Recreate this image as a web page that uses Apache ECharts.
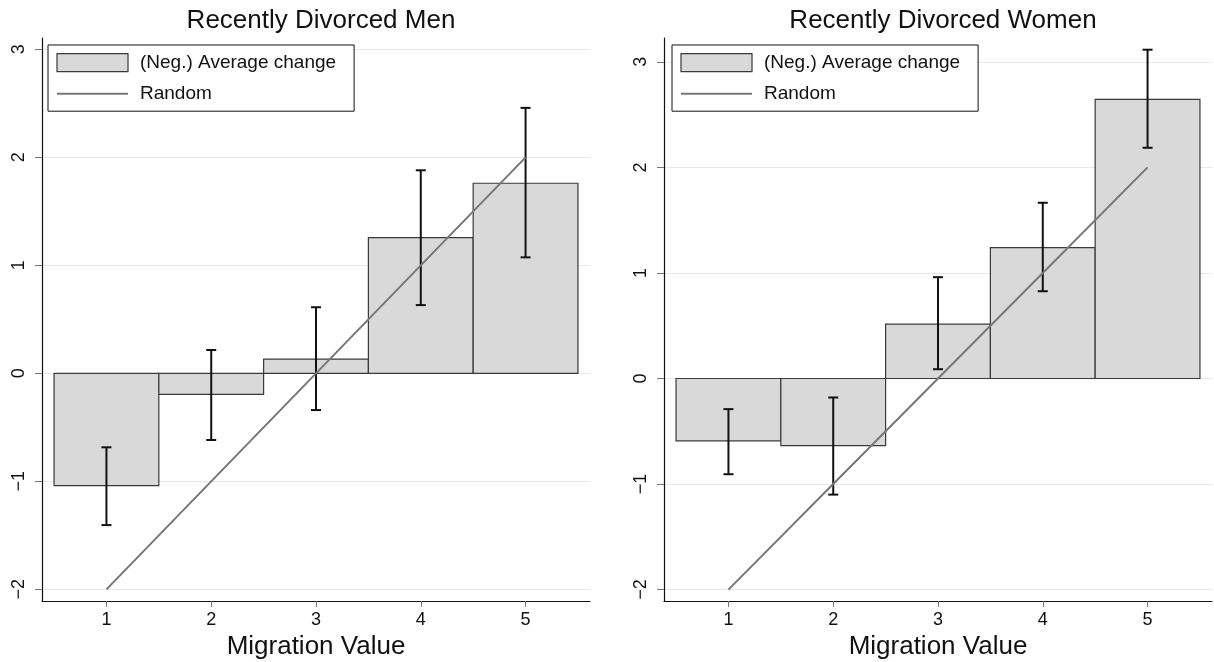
<!DOCTYPE html>
<html>
<head>
<meta charset="utf-8">
<script src="https://cdn.jsdelivr.net/npm/echarts@6/dist/echarts.min.js"></script>
<style>
  html, body { margin: 0; padding: 0; background: #fff; }
  #chart { width: 1214px; height: 662px; }
</style>
</head>
<body>
<div id="chart"></div>
<script>
// Migration values on the x axis
const categories = [1, 2, 3, 4, 5];
const xTicks = [1, 2, 3, 4, 5];
const yTicks = [-2, -1, 0, 1, 2, 3];

// Recently divorced men: (neg.) average change with confidence interval
const menAvg  = [-1.04, -0.195, 0.132, 1.256, 1.76];
const menLow  = [-1.405, -0.617, -0.34, 0.632, 1.074];
const menHigh = [-0.685, 0.216, 0.612, 1.88, 2.458];

// Recently divorced women
const womenAvg  = [-0.59, -0.635, 0.515, 1.24, 2.645];
const womenLow  = [-0.907, -1.10, 0.088, 0.827, 2.186];
const womenHigh = [-0.29, -0.18, 0.96, 1.665, 3.115];

// Reference line under random assignment
const randomLine = [-2, -1, 0, 1, 2];

const titles = ['Recently Divorced Men', 'Recently Divorced Women'];
const FONT = '"Liberation Sans", Arial, Helvetica, sans-serif';
const BAR_NAME = '(Neg.) Average change';
const LINE_NAME = 'Random';

const fmtMinus = v => (v < 0 ? '\u2212' + Math.abs(v) : String(v));

function barSeries(idx, avg) {
  return {
    type: 'custom',
    name: BAR_NAME,
    xAxisIndex: idx, yAxisIndex: idx,
    itemStyle: { color: '#d9d9d9' },
    data: categories.map((c, i) => [c, avg[i]]),
    encode: { x: 0, y: 1 },
    renderItem: function (params, api) {
      const x = api.value(0), v = api.value(1);
      const p0 = api.coord([x - 0.5, 0]);
      const p1 = api.coord([x + 0.5, v]);
      return {
        type: 'rect',
        shape: {
          x: Math.min(p0[0], p1[0]), y: Math.min(p0[1], p1[1]),
          width: Math.abs(p1[0] - p0[0]), height: Math.abs(p1[1] - p0[1])
        },
        style: { fill: '#d9d9d9', stroke: '#3a3a3a', lineWidth: 1.2 }
      };
    },
    z: 2
  };
}

function errSeries(idx, low, high) {
  return {
    type: 'custom',
    xAxisIndex: idx, yAxisIndex: idx,
    data: categories.map((c, i) => [c, low[i], high[i]]),
    encode: { x: 0, y: [1, 2] },
    renderItem: function (params, api) {
      const x = api.value(0);
      const lo = api.coord([x, api.value(1)]);
      const hi = api.coord([x, api.value(2)]);
      const cap = 5;
      const st = { stroke: '#111', lineWidth: 2 };
      return {
        type: 'group',
        children: [
          { type: 'line', shape: { x1: lo[0], y1: lo[1], x2: hi[0], y2: hi[1] }, style: st },
          { type: 'line', shape: { x1: lo[0] - cap, y1: lo[1], x2: lo[0] + cap, y2: lo[1] }, style: st },
          { type: 'line', shape: { x1: hi[0] - cap, y1: hi[1], x2: hi[0] + cap, y2: hi[1] }, style: st }
        ]
      };
    },
    z: 3
  };
}

function lineSeries(idx) {
  return {
    type: 'line',
    name: LINE_NAME,
    xAxisIndex: idx, yAxisIndex: idx,
    data: categories.map((c, i) => [c, randomLine[i]]),
    symbol: 'none',
    lineStyle: { color: '#777', width: 2 },
    itemStyle: { color: '#777' },
    z: 4
  };
}

const grids = [
  { left: 42, width: 548, top: 38, bottom: 61, containLabel: false, outerBoundsMode: 'none' },
  { left: 664, width: 548, top: 38, bottom: 61, containLabel: false, outerBoundsMode: 'none' }
];
const yRanges = [[-2.108, 3.105], [-2.108, 3.226]];
const titleCenters = [316, 938];
const legendLefts = [48, 672];

function xAxis(idx) {
  return {
    type: 'value', gridIndex: idx,
    min: 0.385, max: 5.615,
    name: 'Migration Value', nameLocation: 'middle', nameGap: 24,
    nameTextStyle: { fontFamily: FONT, fontSize: 26, color: '#111' },
    axisLine: { show: true, onZero: false, lineStyle: { color: '#111', width: 1.2 } },
    axisTick: { show: true, customValues: xTicks, length: 6, lineStyle: { color: '#777' } },
    axisLabel: { customValues: xTicks, margin: 10, fontFamily: FONT, fontSize: 18, color: '#111' },
    splitLine: { show: false }
  };
}

function yAxis(idx) {
  return {
    type: 'value', gridIndex: idx,
    min: yRanges[idx][0], max: yRanges[idx][1],
    axisLine: { show: true, lineStyle: { color: '#111', width: 1.2 } },
    axisTick: { show: true, customValues: yTicks, length: 7, lineStyle: { color: '#777' } },
    axisLabel: { customValues: yTicks, rotate: 90, margin: 14, fontFamily: FONT, fontSize: 18, color: '#111', formatter: fmtMinus },
    splitLine: { show: true, lineStyle: { color: '#e8e8e8', width: 1 } }
  };
}

function legend(idx) {
  return {
    left: legendLefts[idx], top: 45,
    orient: 'vertical',
    selectedMode: false,
    backgroundColor: '#fff',
    borderColor: '#111', borderWidth: 1,
    padding: [8, 18, 8, 8],
    itemWidth: 71, itemHeight: 18, itemGap: 12,
    textStyle: { fontFamily: FONT, fontSize: 19, color: '#111', lineHeight: 18, padding: [0, 0, 0, 7] },
    data: [
      { name: BAR_NAME, icon: 'rect', itemStyle: { color: '#d9d9d9', borderColor: '#3a3a3a', borderWidth: 1.2 } },
      { name: LINE_NAME, itemStyle: { color: 'rgba(0,0,0,0)', borderWidth: 0, opacity: 0 } }
    ],
    z: 10
  };
}

const chart = echarts.init(document.getElementById('chart'), null, { renderer: 'canvas' });
chart.setOption({
  backgroundColor: '#fff',
  animation: false,
  title: titles.map((t, i) => ({
    text: t, left: titleCenters[i], top: 3, textAlign: 'center',
    textStyle: { fontFamily: FONT, fontSize: 26, fontWeight: 'normal', color: '#111' }
  })),
  legend: [legend(0), legend(1)],
  grid: grids,
  xAxis: [xAxis(0), xAxis(1)],
  yAxis: [yAxis(0), yAxis(1)],
  series: [
    barSeries(0, menAvg), errSeries(0, menLow, menHigh), lineSeries(0),
    barSeries(1, womenAvg), errSeries(1, womenLow, womenHigh), lineSeries(1)
  ]
});
</script>
</body>
</html>
